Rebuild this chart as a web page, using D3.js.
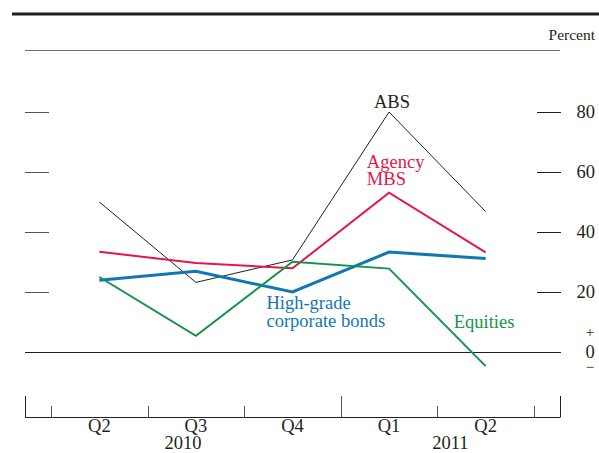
<!DOCTYPE html>
<html><head><meta charset="utf-8">
<script src="https://cdn.jsdelivr.net/npm/d3@7"></script>
<style>
body{margin:0;background:#fff;}
svg{display:block;font-family:"Liberation Serif","Times New Roman",serif;}
</style></head>
<body><svg id="c" width="599" height="453"></svg>
<script>
const quarters = ["Q2","Q3","Q4","Q1","Q2"];
const years = [{label:"2010", from:-0.77, to:2.5},{label:"2011", from:2.5, to:4.77}];
const yTicks = [20,40,60,80];
const abs = [50, 23.2, 30.7, 80, 46.8];
const agencyMBS = [33.4, 29.7, 27.9, 53.1, 33.2];
const highGrade = [23.9, 26.9, 20, 33.3, 31.2];
const equities = [25, 5.4, 30.1, 27.8, -4.7];

const series = [
  {name:"ABS", values:abs, color:"#231f20", width:1, labels:["ABS"], lx:3.03, ly:[107.5], anchor:"middle"},
  {name:"Agency MBS", values:agencyMBS, color:"#e4174b", width:2, labels:["Agency","MBS"], lx:2.77, ly:[168,185], anchor:"start"},
  {name:"High-grade corporate bonds", values:highGrade, color:"#1177b3", width:3, labels:["High-grade","corporate bonds"], lx:1.73, ly:[309,327], anchor:"start"},
  {name:"Equities", values:equities, color:"#15924a", width:2, labels:["Equities"], lx:3.67, ly:[328], anchor:"start"}
];

const svg = d3.select("#c");
const x = d3.scaleLinear().domain([-0.77, 4.77]).range([25, 560]);
const y = d3.scaleLinear().domain([0, 80]).range([352, 112]);

// top rules
svg.append("line").attr("x1",12).attr("x2",599).attr("y1",14).attr("y2",14).attr("stroke","#231f20").attr("stroke-width",3);
svg.append("line").attr("x1",25).attr("x2",560).attr("y1",50.5).attr("y2",50.5).attr("stroke","#6d6e71").attr("stroke-width",1);
svg.append("text").attr("x",595).attr("y",40).attr("text-anchor","end").attr("font-size",15.5).attr("fill","#231f20").text("Percent");

// y ticks both sides
const yg = svg.append("g");
yTicks.forEach(t=>{
  yg.append("line").attr("x1",25).attr("x2",49).attr("y1",Math.round(y(t))+0.5).attr("y2",Math.round(y(t))+0.5).attr("stroke","#555").attr("stroke-width",1);
  yg.append("line").attr("x1",537).attr("x2",561).attr("y1",Math.round(y(t))+0.5).attr("y2",Math.round(y(t))+0.5).attr("stroke","#231f20").attr("stroke-width",1);
  yg.append("text").attr("x",595).attr("y",y(t)+6).attr("text-anchor","end").attr("font-size",18.5).attr("fill","#231f20").text(t);
});
// zero line
svg.append("line").attr("x1",25).attr("x2",561).attr("y1",Math.round(y(0))+0.5).attr("y2",Math.round(y(0))+0.5).attr("stroke","#231f20").attr("stroke-width",1);
svg.append("text").attr("x",590).attr("y",y(0)+6).attr("text-anchor","middle").attr("font-size",18.5).attr("fill","#231f20").text("0");
svg.append("text").attr("x",590).attr("y",y(0)-15).attr("text-anchor","middle").attr("font-size",15).attr("fill","#231f20").text("+");
svg.append("text").attr("x",590).attr("y",y(0)+20).attr("text-anchor","middle").attr("font-size",15).attr("fill","#231f20").text("\u2212");

// x axis
const axisY = 417;
const xg = svg.append("g").attr("transform",`translate(0,${axisY})`);
xg.append("line").attr("x1",25).attr("x2",560).attr("y1",0.5).attr("y2",0.5).attr("stroke","#231f20");
d3.range(-0.5, 5, 1).forEach(v=>{
  const tall = v===2.5;
  xg.append("line").attr("x1",Math.round(x(v))+0.5).attr("x2",Math.round(x(v))+0.5).attr("y1",0.5).attr("y2",tall?-21:-11).attr("stroke","#555");
});
[-0.77,4.77].forEach(v=>{
  xg.append("line").attr("x1",Math.round(x(v))+0.5).attr("x2",Math.round(x(v))+0.5).attr("y1",0.5).attr("y2",-21).attr("stroke","#231f20");
});
quarters.forEach((q,i)=>{
  svg.append("text").attr("x",x(i)).attr("y",432).attr("text-anchor","middle").attr("font-size",18.5).attr("fill","#231f20").text(q);
});
years.forEach(yr=>{
  svg.append("text").attr("x",(x(yr.from)+x(yr.to))/2).attr("y",449).attr("text-anchor","middle").attr("font-size",18.5).attr("fill","#231f20").text(yr.label);
});

// lines
const line = d3.line().x((d,i)=>x(i)).y(d=>y(d));
series.forEach(s=>{
  svg.append("path").datum(s.values).attr("d",line).attr("fill","none").attr("stroke",s.color).attr("stroke-width",s.width).attr("stroke-linejoin","miter");
  s.labels.forEach((l,k)=>{
    svg.append("text").attr("x",x(s.lx)).attr("y",s.ly[k]).attr("text-anchor",s.anchor).attr("font-size",18.5).attr("fill",s.color).text(l);
  });
});
</script></body></html>
